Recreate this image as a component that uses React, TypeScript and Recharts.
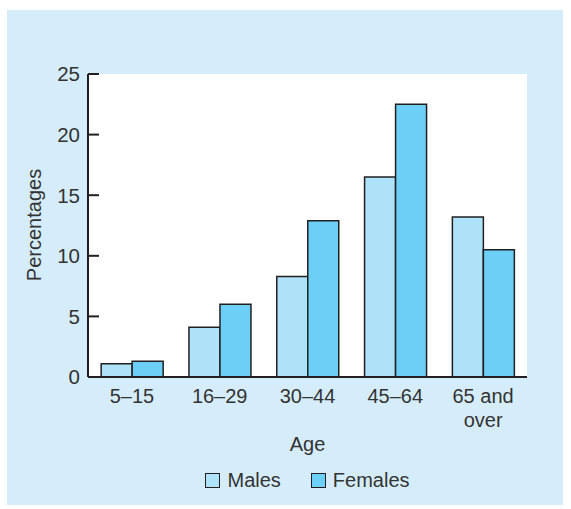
import { Bar, BarChart, CartesianGrid, Legend, XAxis, YAxis } from "recharts";

const ageGroups = ["5–15", "16–29", "30–44", "45–64", "65 and over"];
const males = [1.1, 4.1, 8.3, 16.5, 13.2];
const females = [1.3, 6.0, 12.9, 22.5, 10.5];
const yTicks = [0, 5, 10, 15, 20, 25];

const data = ageGroups.map((age, i) => ({ age, Males: males[i], Females: females[i] }));

const FONT = "'Liberation Sans', Arial, sans-serif";
const INK = "#231f20";
const TEXT = "#333333";
const MALE = "#aee2f9";
const FEMALE = "#6ccff5";

const YTick = ({ x, y, payload }: any) => (
  <g>
    <line x1={x + 8} x2={x + 19} y1={y} y2={y} stroke={INK} strokeWidth={2} />
    <text x={x} y={y} dy="0.36em" textAnchor="end" fontSize={20.5} fontFamily={FONT} fill={TEXT}>
      {payload.value}
    </text>
  </g>
);

const XTick = ({ x, y, payload }: any) => {
  const label: string = payload.value;
  const lines = label === "65 and over" ? ["65 and", "over"] : [label];
  return (
    <text x={x} y={y + 26} textAnchor="middle" fontSize={20} fontFamily={FONT} fill={TEXT}>
      {lines.map((l, i) => (
        <tspan key={l} x={x} dy={i === 0 ? 0 : 24}>
          {l}
        </tspan>
      ))}
    </text>
  );
};

const AgeLabel = ({ viewBox }: any) => (
  <text x={viewBox.x + viewBox.width / 2} y={441} textAnchor="middle" fontSize={20} fontFamily={FONT} fill={TEXT}>
    Age
  </text>
);

const PctLabel = () => (
  <text x={34} y={215} transform="rotate(-90, 34, 215)" textAnchor="middle" fontSize={20} fontFamily={FONT} fill={TEXT}>
    Percentages
  </text>
);

const LegendBox = () => (
  <div style={{ display: "flex", justifyContent: "center", gap: 30, fontFamily: FONT, fontSize: 20, color: TEXT }}>
    {[
      { name: "Males", color: MALE },
      { name: "Females", color: FEMALE },
    ].map((item) => (
      <span key={item.name} style={{ display: "flex", alignItems: "center" }}>
        <span style={{ width: 13, height: 13, background: item.color, border: `1.5px solid ${INK}`, marginRight: 7 }} />
        {item.name}
      </span>
    ))}
  </div>
);

export default function App() {
  return (
    <div style={{ position: "absolute", left: 7, top: 10, width: 556, height: 495, background: "#d5edfa" }}>
      <BarChart width={556} height={495} data={data} margin={{ top: 64, right: 36, left: 41, bottom: 98 }} barCategoryGap="15%" barGap={0}>
        <CartesianGrid fill="#ffffff" stroke="none" horizontal={false} vertical={false} />
        <XAxis
          dataKey="age"
          height={30}
          tickLine={false}
          tickSize={0}
          tickMargin={0}
          axisLine={{ stroke: INK, strokeWidth: 2 }}
          tick={<XTick />}
          interval={0}
          label={<AgeLabel />}
        />
        <YAxis
          width={40}
          domain={[0, 25]}
          ticks={yTicks}
          tickLine={false}
          tickSize={0}
          tickMargin={8}
          axisLine={{ stroke: INK, strokeWidth: 2 }}
          tick={<YTick />}
          label={<PctLabel />}
        />
        <Legend
          layout="horizontal"
          align="center"
          verticalAlign="middle"
          wrapperStyle={{ top: 459, left: 81, width: 439 }}
          content={<LegendBox />}
        />
        <Bar dataKey="Males" fill={MALE} stroke={INK} strokeWidth={1.5} isAnimationActive={false} />
        <Bar dataKey="Females" fill={FEMALE} stroke={INK} strokeWidth={1.5} isAnimationActive={false} />
      </BarChart>
    </div>
  );
}
